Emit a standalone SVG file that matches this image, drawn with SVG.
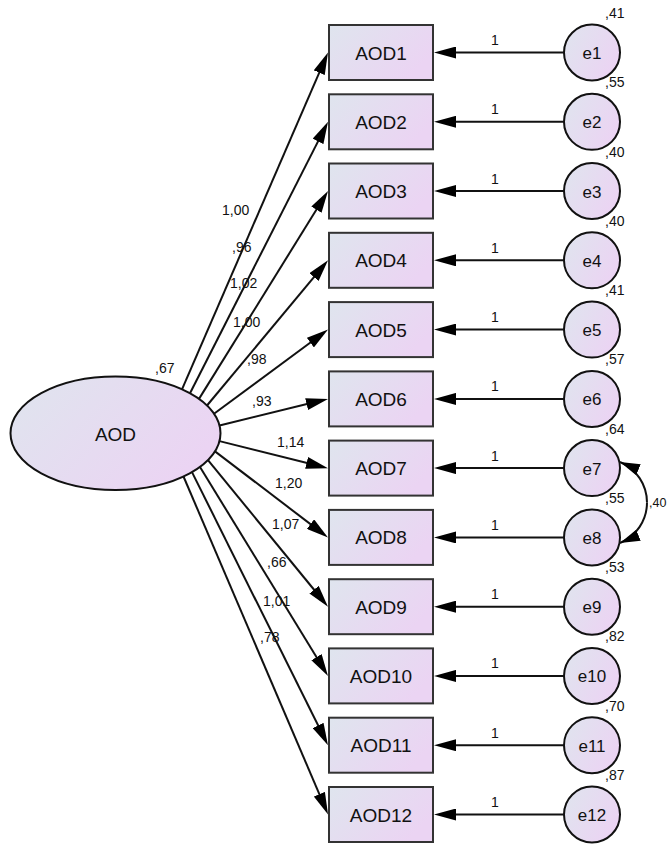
<svg xmlns="http://www.w3.org/2000/svg" width="667" height="844" viewBox="0 0 667 844">
<defs>
<linearGradient id="fillg" x1="0" y1="0" x2="1" y2="0.5">
<stop offset="0" stop-color="#dfe5ee"/>
<stop offset="1" stop-color="#ebd4f3"/>
</linearGradient>
<marker id="ah" viewBox="0 0 22 12" refX="14" refY="6" markerWidth="22" markerHeight="12" markerUnits="userSpaceOnUse" orient="auto">
<path d="M0,0 L22,6 L0,12 z" fill="#000"/>
</marker>
<marker id="ahc" viewBox="0 0 20 12" refX="20" refY="6" markerWidth="20" markerHeight="12" markerUnits="userSpaceOnUse" orient="auto">
<path d="M0,0 L20,6 L0,12 z" fill="#000"/>
</marker>
</defs>
<style>
.ln{stroke:#111;stroke-width:2;fill:none}
.arr{marker-end:url(#ah)}
.box{fill:url(#fillg);stroke:#333;stroke-width:2}
.cir{fill:url(#fillg);stroke:#111;stroke-width:2}
.t{font-family:"Liberation Sans",Arial,sans-serif;fill:#111}
.big{font-size:19px;text-anchor:middle}
.mid{font-size:17px;text-anchor:middle}
.sm{font-size:14px}
</style>
<g id="connectors">
<line class="ln arr" x1="182" y1="389.4" x2="324.8" y2="59.8"/>
<line class="ln arr" x1="190" y1="393.3" x2="324.4" y2="128.9"/>
<line class="ln arr" x1="199" y1="398.9" x2="323.8" y2="197.8"/>
<line class="ln arr" x1="207" y1="405.5" x2="322.9" y2="266.4"/>
<line class="ln arr" x1="214" y1="413.7" x2="321.6" y2="334.3"/>
<line class="ln arr" x1="219.5" y1="425.5" x2="320.2" y2="400.8"/>
<line class="ln arr" x1="219.5" y1="441.1" x2="320.2" y2="466.2"/>
<line class="ln arr" x1="215" y1="451.4" x2="321.6" y2="532.6"/>
<line class="ln arr" x1="208" y1="460.1" x2="322.9" y2="600.5"/>
<line class="ln arr" x1="200" y1="467" x2="323.8" y2="669.1"/>
<line class="ln arr" x1="192" y1="472.1" x2="324.4" y2="738"/>
<line class="ln arr" x1="183.5" y1="476.5" x2="324.9" y2="807.1"/>
<line class="ln arr" x1="564" y1="52.5" x2="442" y2="52.5"/>
<line class="ln arr" x1="564" y1="121.8" x2="442" y2="121.8"/>
<line class="ln arr" x1="564" y1="191" x2="442" y2="191"/>
<line class="ln arr" x1="564" y1="260.3" x2="442" y2="260.3"/>
<line class="ln arr" x1="564" y1="329.6" x2="442" y2="329.6"/>
<line class="ln arr" x1="564" y1="398.9" x2="442" y2="398.9"/>
<line class="ln arr" x1="564" y1="468.1" x2="442" y2="468.1"/>
<line class="ln arr" x1="564" y1="537.4" x2="442" y2="537.4"/>
<line class="ln arr" x1="564" y1="606.7" x2="442" y2="606.7"/>
<line class="ln arr" x1="564" y1="675.9" x2="442" y2="675.9"/>
<line class="ln arr" x1="564" y1="745.2" x2="442" y2="745.2"/>
<line class="ln arr" x1="564" y1="814.5" x2="442" y2="814.5"/>
<path class="ln" d="M647,502.5 A43.9,43.9 0 0 0 620,462" marker-end="url(#ahc)"/>
<path class="ln" d="M647,502.5 A43.9,43.9 0 0 1 620,543" marker-end="url(#ahc)"/>
</g>
<g class="t sm">
<text x="222" y="215">1,00</text>
<text x="232" y="251.5">,96</text>
<text x="230" y="288">1,02</text>
<text x="233" y="326.5">1,00</text>
<text x="247" y="364">,98</text>
<text x="252" y="405.5">,93</text>
<text x="277" y="446.5">1,14</text>
<text x="275" y="488">1,20</text>
<text x="272" y="529">1,07</text>
<text x="267" y="567">,66</text>
<text x="263" y="605.5">1,01</text>
<text x="260" y="641.5">,78</text>
<text x="649" y="506.5" style="font-size:12.5px">,40</text>
<text x="491" y="45">1</text>
<text x="491" y="114.3">1</text>
<text x="491" y="183.5">1</text>
<text x="491" y="252.8">1</text>
<text x="491" y="322.1">1</text>
<text x="491" y="391.4">1</text>
<text x="491" y="460.6">1</text>
<text x="491" y="529.9">1</text>
<text x="491" y="599.2">1</text>
<text x="491" y="668.4">1</text>
<text x="491" y="737.7">1</text>
<text x="491" y="807">1</text>
</g>
<g id="AOD">
<ellipse class="cir" cx="115.5" cy="433.3" rx="105" ry="56.7"/>
<text class="t big" x="115.5" y="441">AOD</text>
<text class="t sm" x="155" y="372.5">,67</text>
</g>
<g id="AOD1"><rect class="box" x="329" y="25" width="104" height="55"/><text class="t big" x="381" y="59.5">AOD1</text></g>
<g id="AOD2"><rect class="box" x="329" y="94.3" width="104" height="55"/><text class="t big" x="381" y="128.8">AOD2</text></g>
<g id="AOD3"><rect class="box" x="329" y="163.5" width="104" height="55"/><text class="t big" x="381" y="198">AOD3</text></g>
<g id="AOD4"><rect class="box" x="329" y="232.8" width="104" height="55"/><text class="t big" x="381" y="267.3">AOD4</text></g>
<g id="AOD5"><rect class="box" x="329" y="302.1" width="104" height="55"/><text class="t big" x="381" y="336.6">AOD5</text></g>
<g id="AOD6"><rect class="box" x="329" y="371.4" width="104" height="55"/><text class="t big" x="381" y="405.9">AOD6</text></g>
<g id="AOD7"><rect class="box" x="329" y="440.6" width="104" height="55"/><text class="t big" x="381" y="475.1">AOD7</text></g>
<g id="AOD8"><rect class="box" x="329" y="509.9" width="104" height="55"/><text class="t big" x="381" y="544.4">AOD8</text></g>
<g id="AOD9"><rect class="box" x="329" y="579.2" width="104" height="55"/><text class="t big" x="381" y="613.7">AOD9</text></g>
<g id="AOD10"><rect class="box" x="329" y="648.4" width="104" height="55"/><text class="t big" x="381" y="682.9">AOD10</text></g>
<g id="AOD11"><rect class="box" x="329" y="717.7" width="104" height="55"/><text class="t big" x="381" y="752.2">AOD11</text></g>
<g id="AOD12"><rect class="box" x="329" y="787" width="104" height="55"/><text class="t big" x="381" y="821.5">AOD12</text></g>
<g id="e1"><circle class="cir" cx="592" cy="52.5" r="28"/><text class="t mid" x="592" y="59">e1</text><text class="t sm" x="605" y="18">,41</text></g>
<g id="e2"><circle class="cir" cx="592" cy="121.8" r="28"/><text class="t mid" x="592" y="128.3">e2</text><text class="t sm" x="605" y="87.3">,55</text></g>
<g id="e3"><circle class="cir" cx="592" cy="191" r="28"/><text class="t mid" x="592" y="197.5">e3</text><text class="t sm" x="605" y="156.5">,40</text></g>
<g id="e4"><circle class="cir" cx="592" cy="260.3" r="28"/><text class="t mid" x="592" y="266.8">e4</text><text class="t sm" x="605" y="225.8">,40</text></g>
<g id="e5"><circle class="cir" cx="592" cy="329.6" r="28"/><text class="t mid" x="592" y="336.1">e5</text><text class="t sm" x="605" y="295.1">,41</text></g>
<g id="e6"><circle class="cir" cx="592" cy="398.9" r="28"/><text class="t mid" x="592" y="405.4">e6</text><text class="t sm" x="605" y="364.4">,57</text></g>
<g id="e7"><circle class="cir" cx="592" cy="468.1" r="28"/><text class="t mid" x="592" y="474.6">e7</text><text class="t sm" x="605" y="433.6">,64</text></g>
<g id="e8"><circle class="cir" cx="592" cy="537.4" r="28"/><text class="t mid" x="592" y="543.9">e8</text><text class="t sm" x="605" y="502.9">,55</text></g>
<g id="e9"><circle class="cir" cx="592" cy="606.7" r="28"/><text class="t mid" x="592" y="613.2">e9</text><text class="t sm" x="605" y="572.2">,53</text></g>
<g id="e10"><circle class="cir" cx="592" cy="675.9" r="28"/><text class="t mid" x="592" y="682.4">e10</text><text class="t sm" x="605" y="641.4">,82</text></g>
<g id="e11"><circle class="cir" cx="592" cy="745.2" r="28"/><text class="t mid" x="592" y="751.7">e11</text><text class="t sm" x="605" y="710.7">,70</text></g>
<g id="e12"><circle class="cir" cx="592" cy="814.5" r="28"/><text class="t mid" x="592" y="821">e12</text><text class="t sm" x="605" y="780">,87</text></g>
</svg>
